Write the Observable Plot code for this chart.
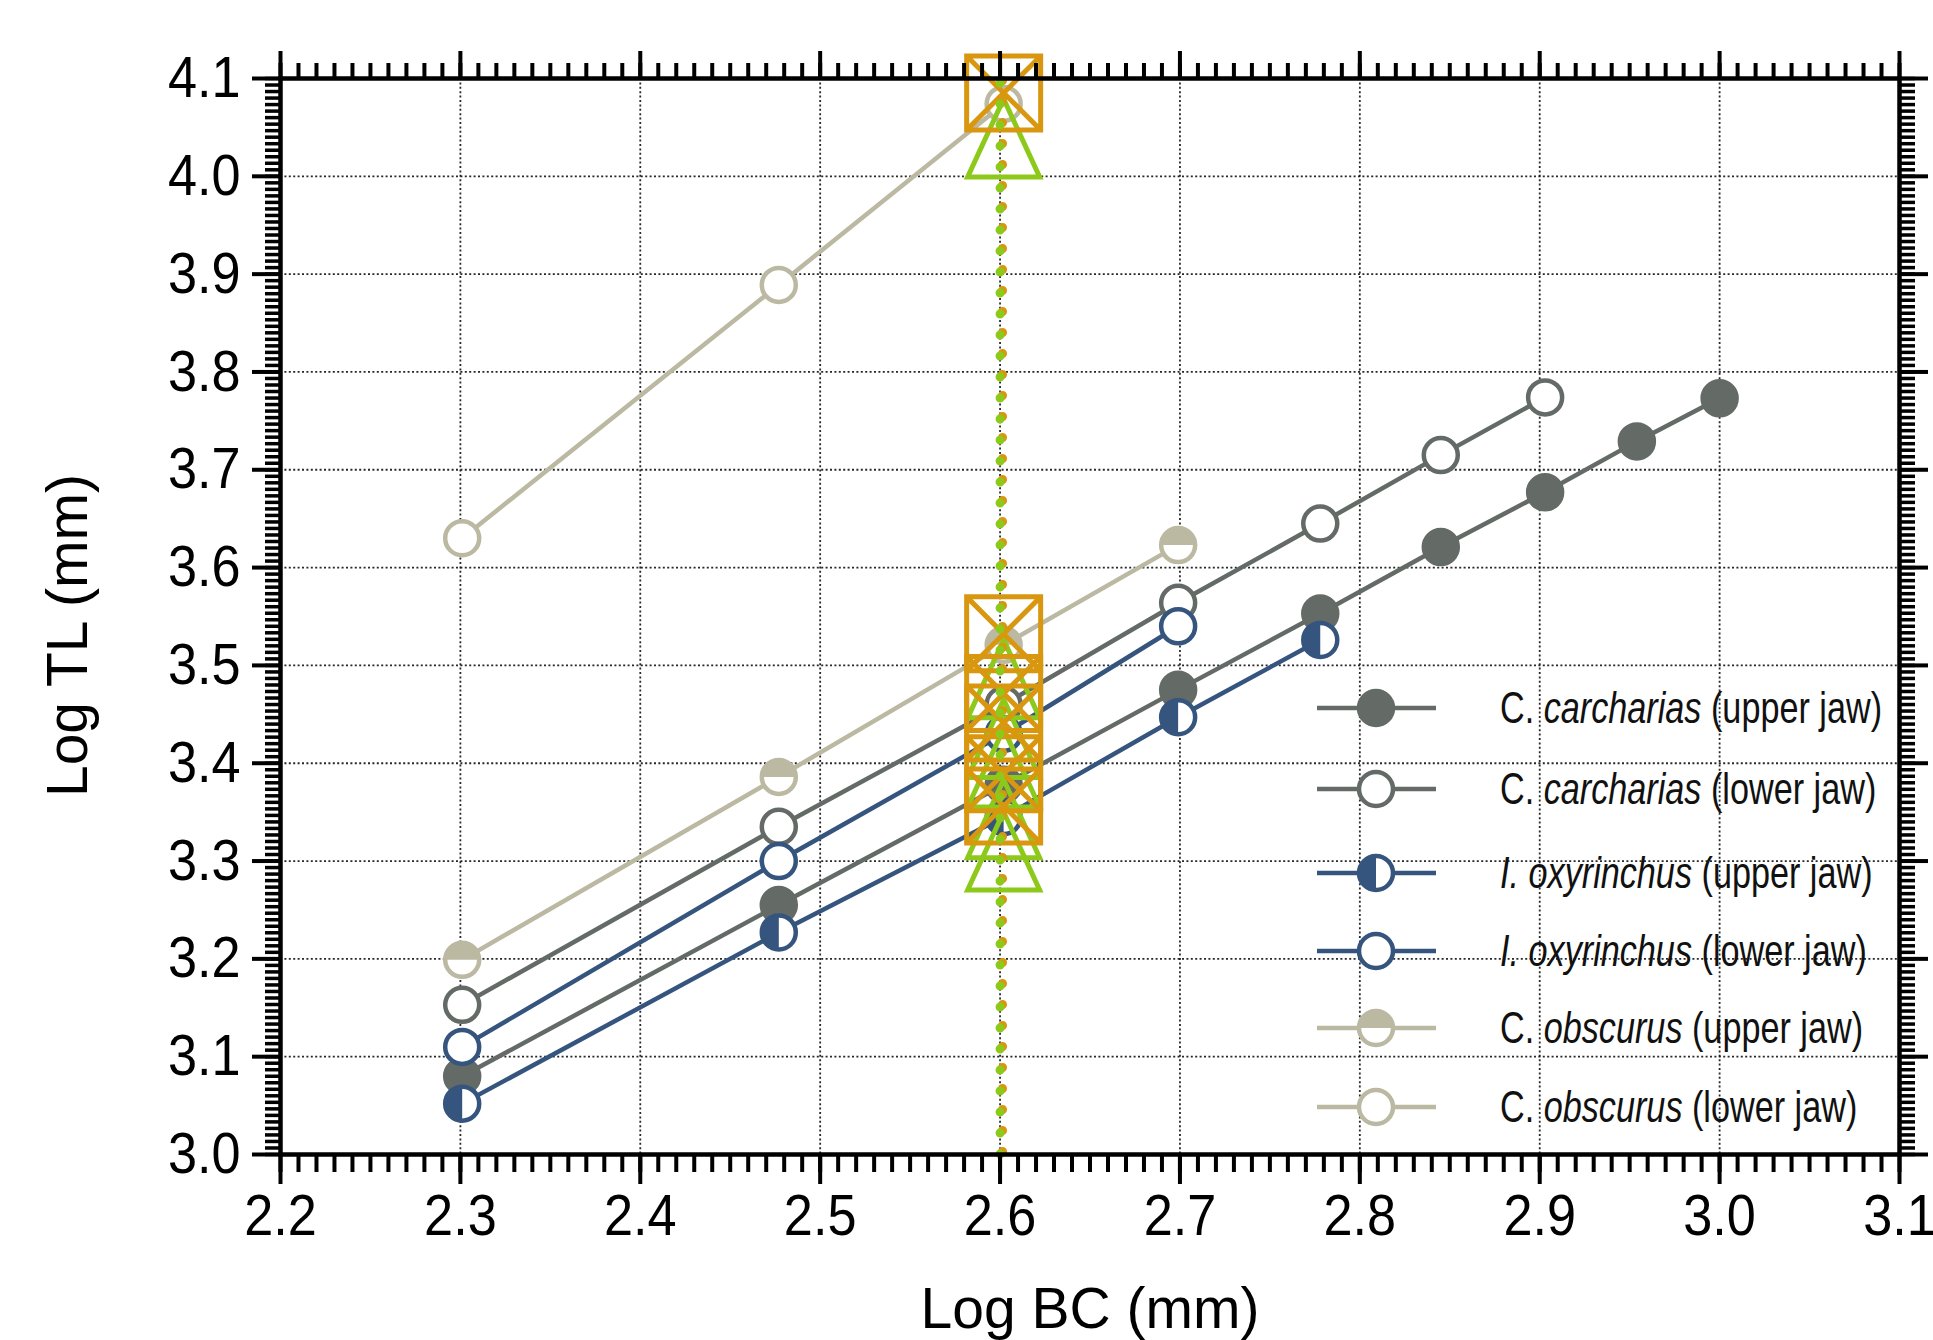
<!DOCTYPE html>
<html><head><meta charset="utf-8">
<script src="https://cdn.jsdelivr.net/npm/d3@7"></script>
<script src="https://cdn.jsdelivr.net/npm/@observablehq/plot@0.6"></script>
<style>
html,body{margin:0;padding:0;background:#fff;}
#wrap{position:relative;width:1933px;height:1340px;overflow:hidden;font-family:"Liberation Sans",Arial,sans-serif;}
.leg{position:absolute;left:0;top:0;width:1933px;height:1340px;pointer-events:none;}
.row{position:absolute;height:50px;}
.row svg{position:absolute;left:0;top:0;}
.lab{position:absolute;left:188px;top:0;height:50px;line-height:50px;font-size:45px;color:#111;white-space:nowrap;display:inline-block;transform:scaleX(0.76);transform-origin:left center;}
</style></head>
<body><div id="wrap"></div>
<script>
// ---- tick labels ----
const xTicks = [2.2, 2.3, 2.4, 2.5, 2.6, 2.7, 2.8, 2.9, 3.0, 3.1];
const yTicks = [3.0, 3.1, 3.2, 3.3, 3.4, 3.5, 3.6, 3.7, 3.8, 3.9, 4.0, 4.1];

// ---- series (Log BC, Log TL) ----
const ccUpperX = [2.301, 2.477, 2.602, 2.699, 2.778, 2.845, 2.903, 2.954, 3.000];
const ccUpperY = [3.080, 3.255, 3.378, 3.475, 3.553, 3.621, 3.677, 3.729, 3.773];
const ccLowerX = [2.301, 2.477, 2.602, 2.699, 2.778, 2.845, 2.903];
const ccLowerY = [3.153, 3.335, 3.460, 3.564, 3.645, 3.715, 3.774];
const ioUpperX = [2.301, 2.477, 2.602, 2.699, 2.778];
const ioUpperY = [3.052, 3.227, 3.345, 3.447, 3.526];
const ioLowerX = [2.301, 2.477, 2.602, 2.699];
const ioLowerY = [3.110, 3.300, 3.430, 3.540];
const coUpperX = [2.301, 2.477, 2.602, 2.699];
const coUpperY = [3.199, 3.386, 3.521, 3.623];
const coLowerX = [2.301, 2.477, 2.602];
const coLowerY = [3.630, 3.889, 4.074];

// reference line and the highlighted x
const refLineX = 2.6;
const highlightX = 2.602;

const seriesNames = [
  ["C.", "carcharias", "(upper jaw)"],
  ["C.", "carcharias", "(lower jaw)"],
  ["I.", "oxyrinchus", "(upper jaw)"],
  ["I.", "oxyrinchus", "(lower jaw)"],
  ["C.", "obscurus", "(upper jaw)"],
  ["C.", "obscurus", "(lower jaw)"]
];

// ---- styles ----
const CC = "#646b67", IO = "#36557e", CO = "#bcb9a3", ORANGE = "#d9970f", GREEN = "#8dc91b";
const seriesData = [
  {x: ccUpperX, y: ccUpperY, color: CC, kind: "full"},
  {x: ccLowerX, y: ccLowerY, color: CC, kind: "open"},
  {x: ioUpperX, y: ioUpperY, color: IO, kind: "left"},
  {x: ioLowerX, y: ioLowerY, color: IO, kind: "open"},
  {x: coUpperX, y: coUpperY, color: CO, kind: "top"},
  {x: coLowerX, y: coLowerY, color: CO, kind: "open"}
];
const rowsOf = s => s.x.map((x, i) => ({x, y: s.y[i]}));

const rad = (size) => Math.sqrt(size / Math.PI);
const squareX = {draw(c, size){const r = rad(size); c.moveTo(-r,-r); c.lineTo(r,-r); c.lineTo(r,r); c.lineTo(-r,r); c.closePath(); c.moveTo(-r,-r); c.lineTo(r,r); c.moveTo(r,-r); c.lineTo(-r,r);}};
const triUp = {draw(c, size){const k = rad(size)/39; c.moveTo(0,-5*k); c.lineTo(36*k,73*k); c.lineTo(-36*k,73*k); c.closePath();}};
const halfLeft = {draw(c, size){const r = rad(size); c.moveTo(0,-r); c.arc(0,0,r,-Math.PI/2,Math.PI/2,true); c.closePath();}};
const halfTop = {draw(c, size){const r = rad(size); c.moveTo(r,0); c.arc(0,0,r,0,Math.PI,true); c.closePath();}};

const R = 17, SW = 4.5;
function dotMarks(s) {
  const rows = rowsOf(s);
  if (s.kind === "full") return [Plot.dot(rows, {x:"x", y:"y", r:R, fill:s.color, stroke:s.color, strokeWidth:SW})];
  const base = Plot.dot(rows, {x:"x", y:"y", r:R, fill:"white", stroke:s.color, strokeWidth:SW});
  if (s.kind === "open") return [base];
  return [base, Plot.dot(rows, {x:"x", y:"y", r:R, symbol: s.kind === "left" ? halfLeft : halfTop, fill:s.color, stroke:"none"})];
}

const highlightRows = seriesData.flatMap(s => rowsOf(s).filter(d => d.x === highlightX));

const xMinor = d3.range(0, 91).map(i => 2.2 + i * 0.01);
const yMinor = d3.range(0, 166).map(i => 3.0 + i * 0.1 / 15);
const fmt = d3.format(".1f");
const blank = () => "";

const chart = Plot.plot({
  width: 1933, height: 1340,
  marginLeft: 280, marginRight: 34, marginTop: 78, marginBottom: 186,
  style: {fontFamily: "'Liberation Sans', Arial, sans-serif", background: "white", overflow: "visible"},
  x: {domain: [2.2, 3.1], label: null},
  y: {domain: [3.0, 4.1], label: null},
  marks: [
    Plot.gridX({ticks: xTicks, stroke: "#111", strokeOpacity: 0.9, strokeWidth: 1.8, strokeDasharray: "2,2.4"}),
    Plot.gridY({ticks: yTicks, stroke: "#111", strokeOpacity: 0.9, strokeWidth: 1.8, strokeDasharray: "2,2.4"}),
    ...seriesData.map(s => Plot.line(rowsOf(s), {x:"x", y:"y", stroke:s.color, strokeWidth:4.5})),
    ...seriesData.flatMap(dotMarks),
    Plot.dot(highlightRows, {x:"x", y:"y", r:39, symbol: triUp, fill:"none", stroke:GREEN, strokeWidth:5}),
    Plot.dot(highlightRows, {x:"x", y:"y", r:37, dy:-11, symbol: squareX, fill:"none", stroke:ORANGE, strokeWidth:5}),
    Plot.ruleX([refLineX], {y1: 3.0, y2: 4.1, stroke: ORANGE, strokeWidth: 9, strokeDasharray: "0 21", strokeLinecap: "round", dx: 2.5, dy: -2.5}),
    Plot.ruleX([refLineX], {y1: 3.0, y2: 4.1, stroke: GREEN, strokeWidth: 9, strokeDasharray: "0 21", strokeLinecap: "round"}),
    Plot.frame({stroke: "black", strokeWidth: 4.5}),
    Plot.axisX({ticks: xMinor, anchor: "bottom", tickSize: 18, strokeWidth: 4, tickFormat: blank, label: null}),
    Plot.axisX({ticks: xTicks, anchor: "bottom", tickSize: 30, tickPadding: 9, strokeWidth: 4, tickFormat: fmt, fontSize: 58, label: null}),
    Plot.axisX({ticks: xMinor, anchor: "top", tickSize: 16, strokeWidth: 4, tickFormat: blank, label: null}),
    Plot.axisX({ticks: xTicks, anchor: "top", tickSize: 28, strokeWidth: 4, tickFormat: blank, label: null}),
    Plot.axisY({ticks: yMinor, anchor: "left", tickSize: 15, strokeWidth: 3.5, tickFormat: blank, label: null}),
    Plot.axisY({ticks: yTicks, anchor: "left", tickSize: 28, tickPadding: 12, strokeWidth: 4, tickFormat: fmt, fontSize: 58, label: null}),
    Plot.axisY({ticks: yMinor, anchor: "right", tickSize: 15, strokeWidth: 3.5, tickFormat: blank, label: null}),
    Plot.axisY({ticks: yTicks, anchor: "right", tickSize: 28, strokeWidth: 4, tickFormat: blank, label: null}),
    Plot.text(["Log BC (mm)"], {frameAnchor: "bottom", textAnchor: "middle", dy: 173, fontSize: 57, fill: "black"}),
    Plot.text(["Log TL (mm)"], {frameAnchor: "left", textAnchor: "middle", rotate: -90, dx: -212, dy: 19, fontSize: 57, fill: "black"})
  ]
});

const wrap = document.getElementById("wrap");
wrap.appendChild(chart);

// condense tick-label glyphs like the reference typeface
chart.querySelectorAll('g[aria-label$="tick label"] text').forEach(t => {
  const L = t.getComputedTextLength();
  if (L > 0) { t.setAttribute("textLength", (L * 0.9).toFixed(1)); t.setAttribute("lengthAdjust", "spacingAndGlyphs"); }
});

// ---- legend ----
const legendTop = [708, 789, 873, 951, 1028, 1107];
const leg = document.createElement("div");
leg.className = "leg";
seriesData.forEach((s, i) => {
  const row = document.createElement("div");
  row.className = "row";
  row.style.left = "1312px";
  row.style.top = (legendTop[i] - 25) + "px";
  const cx = 64, cy = 25, r = R;
  let marker = "";
  if (s.kind === "full") marker = `<circle cx="${cx}" cy="${cy}" r="${r}" fill="${s.color}" stroke="${s.color}" stroke-width="${SW}"/>`;
  else {
    marker = `<circle cx="${cx}" cy="${cy}" r="${r}" fill="white" stroke="${s.color}" stroke-width="${SW}"/>`;
    if (s.kind === "left") marker += `<path d="M${cx},${cy-r}A${r},${r} 0 0 0 ${cx},${cy+r}Z" fill="${s.color}"/>`;
    if (s.kind === "top") marker += `<path d="M${cx-r},${cy}A${r},${r} 0 0 1 ${cx+r},${cy}Z" fill="${s.color}"/>`;
  }
  const n = seriesNames[i];
  const first = n[0] === "I." ? `<i>${n[0]}</i>` : n[0];
  row.innerHTML = `<svg width="140" height="50"><line x1="5" x2="124" y1="25" y2="25" stroke="${s.color}" stroke-width="4.5"/>${marker}</svg>` +
    `<span class="lab">${first} <i>${n[1]}</i> ${n[2]}</span>`;
  leg.appendChild(row);
});
wrap.appendChild(leg);
</script>
</body></html>
